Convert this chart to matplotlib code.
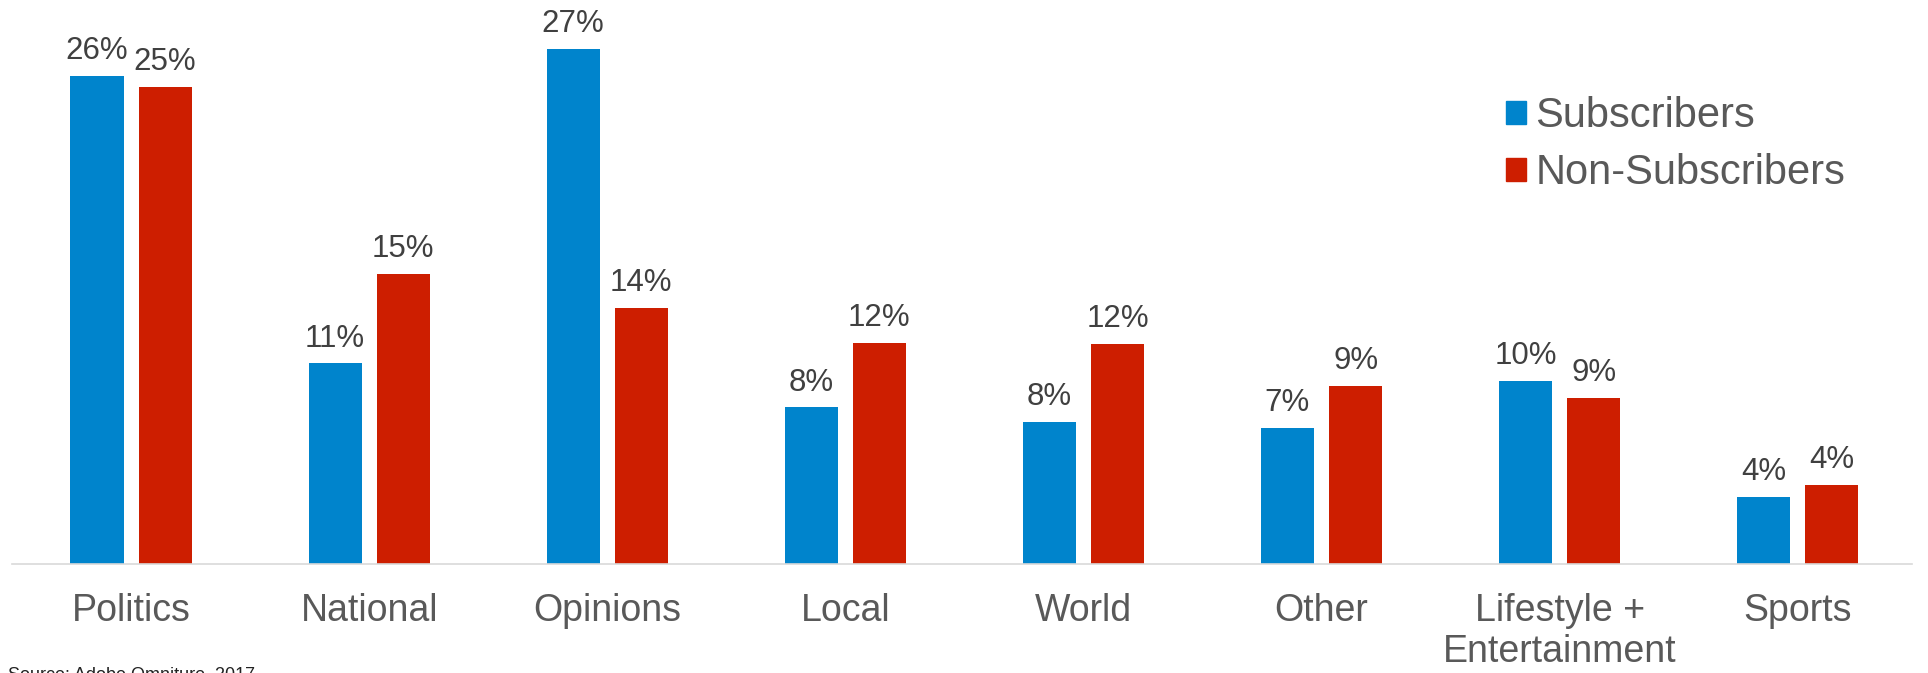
import numpy as np
from matplotlib import pyplot as plt
from matplotlib.patches import Patch

plt.rcParams['font.family'] = ['Liberation Sans', 'DejaVu Sans']

categories = ["Politics", "National", "Opinions", "Local", "World", "Other",
              "Lifestyle +\nEntertainment", "Sports"]
subscribers = [25.96, 10.66, 27.39, 8.32, 7.53, 7.21, 9.71, 3.54]
non_subscribers = [25.37, 15.43, 13.62, 11.76, 11.70, 9.44, 8.80, 4.20]

blue = "#0084cc"
red = "#cd1e00"
txt = "#404040"
grey = "#595959"

fig = plt.figure(figsize=(19.28, 6.73), dpi=100)
ax = fig.add_axes((12/1928, (673-563.5)/673, 1900/1928, 563.5/673))

x = np.arange(len(categories))
w = 0.223
off = 0.143
b1 = ax.bar(x - off, subscribers, w, color=blue, label="Subscribers")
b2 = ax.bar(x + off, non_subscribers, w, color=red, label="Non-Subscribers")

for bars, vals in ((b1, subscribers), (b2, non_subscribers)):
    for r, v in zip(bars, vals):
        ax.annotate("%.0f%%" % v, (r.get_x() + r.get_width()/2, v),
                    xytext=(0, 7), textcoords="offset points",
                    ha="center", va="bottom", fontsize=22.5, color=txt)

ax.set_xlim(-0.5, 7.48)
ax.set_ylim(0, 30)
ax.set_xticks(x)
ax.set_xticklabels(categories, fontsize=27, color=grey)
for lab in ax.get_xticklabels():
    lab.set_multialignment("center")
ax.tick_params(axis="x", length=0, pad=21)
ax.set_yticks([])
for s in ("top", "right", "left"):
    ax.spines[s].set_visible(False)
ax.spines["bottom"].set_color("#d9d9d9")
ax.spines["bottom"].set_linewidth(1.2)

handles = [Patch(color=blue, label="Subscribers"),
           Patch(color=red, label="Non-Subscribers")]
fig.legend(handles=handles, loc="upper left",
           bbox_to_anchor=(1506/1928, 1 - 96/673), frameon=False,
           fontsize=30, labelcolor=grey, handlelength=0.48, handleheight=0.48,
           handletextpad=0.22, labelspacing=0.42, borderpad=0, borderaxespad=0)

fig.text(8/1928, 1 - 666/673, "Source: Adobe Omniture, 2017", fontsize=13,
         color="#222222", ha="left", va="top")

fig.savefig("out.png", dpi=100)
